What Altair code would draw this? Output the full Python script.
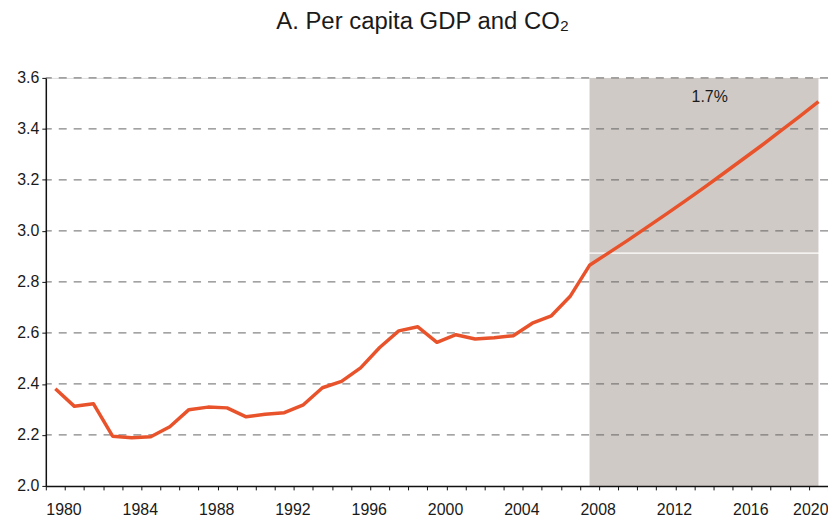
import altair as alt
import pandas as pd

# ---- data ----
years = list(range(1980, 2021))
gdp_co2 = [2.381, 2.312, 2.322, 2.195, 2.189, 2.193, 2.232, 2.299, 2.309, 2.306,
           2.271, 2.281, 2.287, 2.318, 2.385, 2.410, 2.463, 2.543, 2.608, 2.624,
           2.563, 2.593, 2.576, 2.581, 2.589, 2.638, 2.667, 2.745, 2.865, 2.914,
           2.963, 3.014, 3.065, 3.117, 3.170, 3.224, 3.279, 3.334, 3.391, 3.448,
           3.507]
shade_start = [2008]
shade_end = [2020]
y_ticks = [2.0, 2.2, 2.4, 2.6, 2.8, 3.0, 3.2, 3.4, 3.6]
grid_values = [2.2, 2.4, 2.6, 2.8, 3.0, 3.2, 3.4, 3.6]
x_tick_bounds = [y - 0.5 for y in range(1980, 2022)]   # category boundaries 1979.5 .. 2020.5
artifact_line = [2.913]
annotation_text = ["1.7%"]
annotation_x = [2014.3]
annotation_y = [3.525]
title_text = "A. Per capita GDP and CO\u2082"

FONT = "Liberation Sans"
LINE_COLOR = "#e9532b"
SHADE_COLOR = "#d0cac6"

line_df = pd.DataFrame({"year": years, "value": gdp_co2})
shade_df = pd.DataFrame({"x": shade_start, "x2": shade_end, "y": [y_ticks[0]], "y2": [y_ticks[-1]]})
grid_df = pd.DataFrame({"v": grid_values})
art_df = pd.DataFrame({"v": artifact_line})
ann_df = pd.DataFrame({"t": annotation_text, "x": annotation_x, "y": annotation_y})

x_scale = alt.Scale(domain=[1979.5, 2020.5], nice=False, zero=False)
y_scale = alt.Scale(domain=[2.0, 3.6], nice=False, zero=False)

x_axis = alt.Axis(
    values=x_tick_bounds,
    labelExpr="datum.value >= 2020 ? '2020' : ((datum.value + 0.5) % 4 == 0 && datum.value < 2019 ? format(datum.value + 0.5, 'd') : '')",
    labelAlign={"condition": {"test": "datum.value >= 2020", "value": "right"}, "value": "left"},
    labelFlush=False,
    labelOverlap=False,
    grid=False,
    tickSize=4,
    tickColor="#111111",
    tickWidth=1,
    domainColor="#111111",
    domainWidth=1.5,
    labelFont=FONT,
    labelFontSize=16,
    labelColor="#1a1a1a",
    labelPadding=12,
    title=None,
    zindex=1,
)
y_axis = alt.Axis(
    values=y_ticks,
    format=".1f",
    grid=False,
    tickSize=4,
    tickColor="#111111",
    tickWidth=1,
    domainColor="#111111",
    domainWidth=1.5,
    labelFont=FONT,
    labelFontSize=16,
    labelColor="#1a1a1a",
    labelPadding=3,
    labelFlush=False,
    title=None,
    zindex=1,
)

shade = alt.Chart(shade_df).mark_rect(color=SHADE_COLOR).encode(
    x=alt.X("x:Q", scale=x_scale, axis=x_axis),
    x2="x2:Q",
    y=alt.Y("y:Q", scale=y_scale, axis=y_axis),
    y2="y2:Q",
)

grid = alt.Chart(grid_df).mark_rule(color="#666666", strokeWidth=1, strokeDash=[8, 7]).encode(
    y=alt.Y("v:Q", scale=y_scale, axis=y_axis),
)

artifact = alt.Chart(art_df).mark_rule(color="#ffffff", strokeWidth=1.2).encode(
    y=alt.Y("v:Q", scale=y_scale, axis=y_axis),
)

line = alt.Chart(line_df).mark_line(color=LINE_COLOR, strokeWidth=3.5, strokeJoin="round").encode(
    x=alt.X("year:Q", scale=x_scale, axis=x_axis),
    y=alt.Y("value:Q", scale=y_scale, axis=y_axis),
)

ann = alt.Chart(ann_df).mark_text(font=FONT, fontSize=16, color="#1a1a1a", baseline="middle", align="center").encode(
    x=alt.X("x:Q", scale=x_scale, axis=x_axis),
    y=alt.Y("y:Q", scale=y_scale, axis=y_axis),
    text="t:N",
)

chart = alt.layer(shade, grid, artifact, line, ann).properties(
    width=786,
    height=410,
    padding={"left": 38, "top": 69, "right": 0, "bottom": 30},
    autosize=alt.AutoSizeParams(type="none"),
    title=alt.TitleParams(
        text=title_text,
        font=FONT,
        fontSize=24,
        fontWeight="normal",
        color="#1a1a1a",
        anchor="middle",
        frame="bounds",
        baseline="alphabetic",
        offset=17,
    ),
).configure_view(stroke=None).configure(background="white")

chart.save("out.html", embed_options={"renderer": "svg", "actions": False})
